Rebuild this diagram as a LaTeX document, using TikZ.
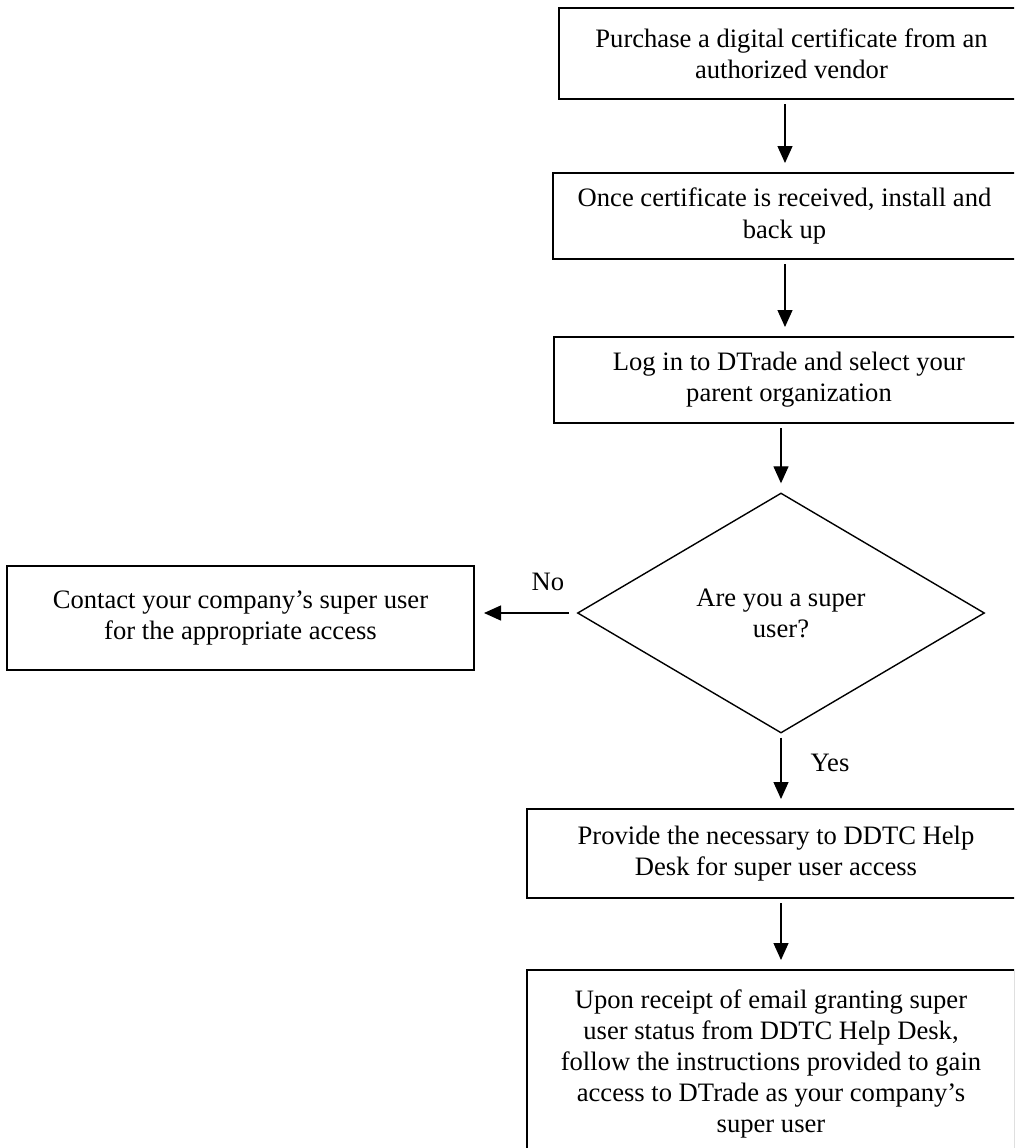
\documentclass[tikz,border=0pt]{standalone}
\usepackage{fontspec}
\setmainfont{Liberation Serif}
\usetikzlibrary{shapes.geometric,arrows.meta}
\begin{document}
\begin{tikzpicture}[x=0.5pt,y=-0.5pt,
  every node/.style={font=\fontsize{13.3}{15.6}\selectfont},
  box/.style={draw,line width=1pt,rectangle,align=center,inner sep=0pt},
  dec/.style={draw,line width=0.7pt,diamond,align=center,inner sep=0pt,minimum width=203.5pt,minimum height=120pt},
  conn/.style={line width=0.65pt,-{Triangle[length=8.5pt,width=7.5pt]},shorten >=4.5pt,shorten <=2pt},
  lbl/.style={inner sep=0pt}]
\useasboundingbox (0,0) rectangle (1014,1148);
\clip (0,0) rectangle (1014,1148);

\node[box,minimum width=232.5pt,minimum height=45.5pt] (b1) at (791.5,53.5)
  {Purchase a digital certificate from an\\authorized vendor};
\node[box,minimum width=231.5pt,minimum height=43pt] (b2) at (784.5,216)
  {Once certificate is received, install and\\back up};
\node[box,minimum width=235pt,minimum height=43pt] (b3) at (789,380)
  {Log in to DTrade and select your\\parent organization};
\node[dec] (d) at (781,613) {Are you a super\\user?};
\node[box,minimum width=233.5pt,minimum height=52pt] (lb) at (240.5,618)
  {Contact your company’s super user\\for the appropriate access};
\node[box,minimum width=249pt,minimum height=44.5pt] (b5) at (776,853.5)
  {Provide the necessary to DDTC Help\\Desk for super user access};
\node[box,minimum width=244pt,minimum height=94pt] (b6) at (771,1064)
  {Upon receipt of email granting super\\user status from DDTC Help Desk,\\follow the instructions provided to gain\\access to DTrade as your company’s\\super user};

\node[lbl] (no) at (548,582) {No};
\node[lbl] (yes) at (830,763) {Yes};

\coordinate (xa) at (785,0);
\coordinate (xb) at (781,0);
\draw[conn] (xa |- b1.south) -- (xa |- b2.north);
\draw[conn] (xa |- b2.south) -- (xa |- b3.north);
\draw[conn] (xb |- b3.south) -- (d.north);
\draw[conn,shorten <=4pt] (d.west) -- (d.west -| lb.east);
\draw[conn] (d.south) -- (xb |- b5.north);
\draw[conn] (xb |- b5.south) -- (xb |- b6.north);
\end{tikzpicture}
\end{document}
